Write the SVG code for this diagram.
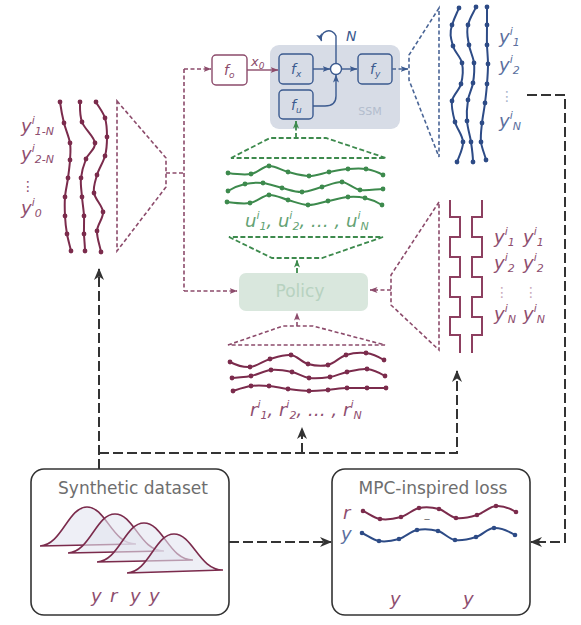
<svg xmlns="http://www.w3.org/2000/svg" width="581" height="625" viewBox="0 0 581 625">
<defs>
<style>
.lab{font-family:"DejaVu Sans",Verdana,sans-serif;font-style:italic;font-size:18px}
.sup,.sub{font-size:11px}
.mt{fill:#8e4e6f}
.bt{fill:#5b6f9e}
.gt{fill:#63a273}
.mc{fill:none;stroke:#7b2b4c;stroke-width:2}
.bc{fill:none;stroke:#2d4b86;stroke-width:2}
.gc{fill:none;stroke:#3d8a4d;stroke-width:2}
.md{fill:#7b2b4c}
.bd{fill:#2d4b86}
.gd{fill:#3d8a4d}
.mdash{fill:none;stroke:#8c4b6b;stroke-width:1.6;stroke-dasharray:4 2.5}
.bdash{fill:none;stroke:#4a6596;stroke-width:1.6;stroke-dasharray:4 2.5}
.gdash{fill:none;stroke:#3d8a4d;stroke-width:1.8;stroke-dasharray:5 2.5}
.kdash{fill:none;stroke:#333;stroke-width:2;stroke-dasharray:10 4}
.box{fill:#fff;stroke:#333;stroke-width:1.6}
.title{font-family:"DejaVu Sans",Verdana,sans-serif;font-size:17px;fill:#6e6e6e;text-anchor:middle}
.fb{fill:none;stroke:#3b5a8f;stroke-width:1.4}
.ft{font-family:"DejaVu Sans",sans-serif;font-style:italic;font-size:14px;fill:#3b5a8f}
.fs{font-size:9px}
.dots{font-family:"DejaVu Sans",sans-serif;font-size:14px}
.gauss{fill:#e2e5f0;fill-opacity:0.6;stroke:#7b2b4c;stroke-width:1.6}
</style>
<marker id="ak" viewBox="0 0 12 10" refX="11" refY="5" markerWidth="12" markerHeight="10" markerUnits="userSpaceOnUse" orient="auto"><path d="M0,0 L12,5 L0,10 L3.5,5 z" fill="#333"/></marker>
<marker id="am" viewBox="0 0 8 6" refX="7.5" refY="3" markerWidth="8" markerHeight="6" markerUnits="userSpaceOnUse" orient="auto"><path d="M0,0 L8,3 L0,6 L2,3 z" fill="#8c4b6b"/></marker>
<marker id="ab" viewBox="0 0 8 6" refX="7.5" refY="3" markerWidth="8" markerHeight="6" markerUnits="userSpaceOnUse" orient="auto"><path d="M0,0 L8,3 L0,6 L2,3 z" fill="#3b5a8f"/></marker>
<marker id="ag" viewBox="0 0 8 6" refX="7.5" refY="3" markerWidth="8" markerHeight="6" markerUnits="userSpaceOnUse" orient="auto"><path d="M0,0 L8,3 L0,6 L2,3 z" fill="#3d8a4d"/></marker>
</defs>
<rect width="581" height="625" fill="#fff"/>

<!-- SSM block -->
<g id="ssm">
<rect x="270" y="45" width="130" height="84" rx="9" fill="#d7dce6"/>
<text x="370" y="115" font-family="DejaVu Sans,sans-serif" font-size="11" fill="#b3bccd" text-anchor="middle">SSM</text>
</g>
<g id="fx"><rect class="fb" x="279" y="54" width="34" height="30" rx="4"/><text class="ft" x="291" y="74">f<tspan class="fs" dy="3">x</tspan></text></g>
<g id="fu"><rect class="fb" x="279" y="90" width="34" height="29" rx="4"/><text class="ft" x="291" y="110">f<tspan class="fs" dy="3">u</tspan></text></g>
<g id="fy"><rect class="fb" x="358" y="54" width="34" height="30" rx="4"/><text class="ft" x="370" y="74">f<tspan class="fs" dy="3">y</tspan></text></g>
<g id="sum"><circle cx="336" cy="69" r="5.5" fill="#fff" stroke="#3b5a8f" stroke-width="1.4"/></g>
<g id="fo"><rect x="212" y="55" width="35" height="30" rx="4" fill="#fff" stroke="#8c4b6b" stroke-width="1.4"/><text class="ft" x="224" y="75" style="fill:#8c4b6b">f<tspan class="fs" dy="3">o</tspan></text></g>
<text class="ft" x="251" y="66" style="fill:#8c4b6b;font-size:13px">x<tspan class="fs" dy="3">0</tspan></text>
<text class="ft" x="346" y="41">N</text>

<!-- Left history trajectories -->
<g id="history">
<path class="mc" d="M60,102 C61,109 62.3,116.2 64,123 S69,136.8 70,143 S70.3,154.2 70,160 S68.8,171.8 68,178 S65.5,190.7 65,197 S64.7,209.8 65,216 S66,228.2 67,234 S70,246 71,251"/>
<path class="mc" d="M80,102 C80,108 79.5,115 82,122 S94.3,136.8 95,143 S88.3,153.2 86,159 S81.7,171.7 81,178 S81.5,190.7 82,197 S83.7,209.8 84,216 S83.8,228.2 84,234 S85,246 85,251"/>
<path class="mc" d="M96,102 C98,106 103.2,112.2 105,118 S107,130.7 107,137 S106.7,149.7 105,156 S98.8,168.8 97,175 S93,186.8 94,193 S102.5,205.7 103,212 S97.3,224.3 97,231 S100,246 101,252"/>
<g class="md">
<circle cx="60" cy="102" r="2.4"/><circle cx="64" cy="123" r="2.4"/><circle cx="70" cy="143" r="2.4"/><circle cx="70" cy="160" r="2.4"/><circle cx="68" cy="178" r="2.4"/><circle cx="65" cy="197" r="2.4"/><circle cx="65" cy="216" r="2.4"/><circle cx="67" cy="234" r="2.4"/><circle cx="71" cy="251" r="2.4"/>
<circle cx="80" cy="102" r="2.4"/><circle cx="82" cy="122" r="2.4"/><circle cx="95" cy="143" r="2.4"/><circle cx="86" cy="159" r="2.4"/><circle cx="81" cy="178" r="2.4"/><circle cx="82" cy="197" r="2.4"/><circle cx="84" cy="216" r="2.4"/><circle cx="84" cy="234" r="2.4"/><circle cx="85" cy="251" r="2.4"/>
<circle cx="96" cy="102" r="2.4"/><circle cx="105" cy="118" r="2.4"/><circle cx="107" cy="137" r="2.4"/><circle cx="105" cy="156" r="2.4"/><circle cx="97" cy="175" r="2.4"/><circle cx="94" cy="193" r="2.4"/><circle cx="103" cy="212" r="2.4"/><circle cx="97" cy="231" r="2.4"/><circle cx="101" cy="252" r="2.4"/>
</g>
<text class="lab mt" x="21" y="132">y<tspan class="sup" dy="-8">i</tspan><tspan class="sub" dy="11">1-N</tspan></text>
<text class="lab mt" x="21" y="160">y<tspan class="sup" dy="-8">i</tspan><tspan class="sub" dy="11">2-N</tspan></text>
<text class="dots mt" x="21" y="191">⋮</text>
<text class="lab mt" x="21" y="214">y<tspan class="sup" dy="-8">i</tspan><tspan class="sub" dy="11">0</tspan></text>
</g>

<!-- Top-right output trajectories -->
<g id="outputs">
<path class="bc" d="M459,8 C457,13 455,16 452,25 S451.3,39.7 453,46 S460.7,56.7 462,63 S462.7,77.7 461,84 S453,94.7 452,101 S453.2,115.2 455,122 S462.7,135.3 463,142 S459,156 457,162"/>
<path class="bc" d="M476,7 C474,12 470,17 468,25 S468,38.7 469,45 S473.3,56.7 474,63 S474,76.8 473,83 S469,93.7 468,100 S466.5,114 467,121 S470,135.2 471,142 S473,156 473,162"/>
<path class="bc" d="M487,7 C487,12 487,18.7 487,25 S486.8,38.5 487,45 S488,57.5 488,64 S487.5,77.5 487,84 S485.8,96.5 485,103 S482.7,116.5 482,123 S480.3,135.8 481,142 S485,155 486,160"/>
<g class="bd">
<circle cx="459" cy="8" r="2.4"/><circle cx="452" cy="25" r="2.4"/><circle cx="453" cy="46" r="2.4"/><circle cx="462" cy="63" r="2.4"/><circle cx="461" cy="84" r="2.4"/><circle cx="452" cy="101" r="2.4"/><circle cx="455" cy="122" r="2.4"/><circle cx="463" cy="142" r="2.4"/><circle cx="457" cy="162" r="2.4"/>
<circle cx="476" cy="7" r="2.4"/><circle cx="468" cy="25" r="2.4"/><circle cx="469" cy="45" r="2.4"/><circle cx="474" cy="63" r="2.4"/><circle cx="473" cy="83" r="2.4"/><circle cx="468" cy="100" r="2.4"/><circle cx="467" cy="121" r="2.4"/><circle cx="471" cy="142" r="2.4"/><circle cx="473" cy="162" r="2.4"/>
<circle cx="487" cy="7" r="2.4"/><circle cx="487" cy="25" r="2.4"/><circle cx="487" cy="45" r="2.4"/><circle cx="488" cy="64" r="2.4"/><circle cx="487" cy="84" r="2.4"/><circle cx="485" cy="103" r="2.4"/><circle cx="482" cy="123" r="2.4"/><circle cx="481" cy="142" r="2.4"/><circle cx="486" cy="160" r="2.4"/>
</g>
<text class="lab bt" x="499" y="43">y<tspan class="sup" dy="-8">i</tspan><tspan class="sub" dy="11">1</tspan></text>
<text class="lab bt" x="499" y="71">y<tspan class="sup" dy="-8">i</tspan><tspan class="sub" dy="11">2</tspan></text>
<text class="dots" x="500" y="101" fill="#a9b4cb">⋮</text>
<text class="lab bt" x="499" y="127">y<tspan class="sup" dy="-8">i</tspan><tspan class="sub" dy="11">N</tspan></text>
</g>

<!-- control inputs u -->
<g id="inputs">
<path class="gc" d="M228,173 C235,174 244.2,175.2 251,174 S262.8,166.3 269,166 S281.3,170.3 288,172 S302.2,176 309,176 S322.5,173.2 329,172 S341.8,169.5 348,169 S360.2,168 366,169 S378,172 383,175"/>
<path class="gc" d="M228,191 C233,188 239.2,185.3 245,184 S256.8,182.3 263,183 S275.5,186.5 282,188 S295.3,192.2 302,192 S315.3,188.7 322,187 S335.7,181.5 342,182 S353.2,188.8 360,190 S377,189 383,189"/>
<path class="gc" d="M227,202 C235,203 243,204.2 250,203 S262.7,195.5 269,195 S281.5,198.3 288,200 S301.3,204.8 308,205 S321.3,202.3 328,201 S341.8,197.5 348,197 S359.3,196.7 365,198 S377,202 382,205"/>
<g class="gd">
<circle cx="228" cy="173" r="2.4"/><circle cx="251" cy="174" r="2.4"/><circle cx="269" cy="166" r="2.4"/><circle cx="288" cy="172" r="2.4"/><circle cx="309" cy="176" r="2.4"/><circle cx="329" cy="172" r="2.4"/><circle cx="348" cy="169" r="2.4"/><circle cx="366" cy="169" r="2.4"/><circle cx="383" cy="175" r="2.4"/>
<circle cx="228" cy="191" r="2.4"/><circle cx="245" cy="184" r="2.4"/><circle cx="263" cy="183" r="2.4"/><circle cx="282" cy="188" r="2.4"/><circle cx="302" cy="192" r="2.4"/><circle cx="322" cy="187" r="2.4"/><circle cx="342" cy="182" r="2.4"/><circle cx="360" cy="190" r="2.4"/><circle cx="383" cy="189" r="2.4"/>
<circle cx="227" cy="202" r="2.4"/><circle cx="250" cy="203" r="2.4"/><circle cx="269" cy="195" r="2.4"/><circle cx="288" cy="200" r="2.4"/><circle cx="308" cy="205" r="2.4"/><circle cx="328" cy="201" r="2.4"/><circle cx="348" cy="197" r="2.4"/><circle cx="365" cy="198" r="2.4"/><circle cx="382" cy="205" r="2.4"/>
</g>
<text class="lab gt" x="245" y="227">u<tspan class="sup" dy="-8">i</tspan><tspan class="sub" dy="11">1</tspan><tspan dy="-3">, u</tspan><tspan class="sup" dy="-8">i</tspan><tspan class="sub" dy="11">2</tspan><tspan dy="-3">, … , u</tspan><tspan class="sup" dy="-8">i</tspan><tspan class="sub" dy="11">N</tspan></text>
</g>

<!-- Policy -->
<g id="policy">
<rect x="239" y="273" width="129" height="38" rx="7" fill="#d9e7dd"/>
<text x="300" y="297" font-family="DejaVu Sans,sans-serif" font-size="17" fill="#b7d2c0" text-anchor="middle">Policy</text>
</g>

<!-- references r -->
<g id="references">
<path class="mc" d="M230,362 C236,365 243.3,367.5 250,367 S263.2,361 270,359 S284.7,354.2 291,355 S301.8,362.3 308,364 S321.7,366.5 328,365 S339.7,357 346,355 S359.7,352.2 366,353 S379,357 384,360"/>
<path class="mc" d="M232,378 C238,377 244.5,377.3 251,376 S264.2,370.7 271,370 S285.7,370.7 292,372 S302.7,377.2 309,378 S323.7,378 330,377 S340.8,373.3 347,372 S360.7,368.3 367,369 S380,373 385,376"/>
<path class="mc" d="M233,391 C239,389 245,386.8 251,386 S262.8,385.5 269,386 S281.3,388.2 288,389 S302.3,390.8 309,391 S321.7,390.5 328,390 S340.5,388 347,388 S360.5,388 367,388 S380,388 386,388"/>
<g class="md">
<circle cx="230" cy="362" r="2.4"/><circle cx="250" cy="367" r="2.4"/><circle cx="270" cy="359" r="2.4"/><circle cx="291" cy="355" r="2.4"/><circle cx="308" cy="364" r="2.4"/><circle cx="328" cy="365" r="2.4"/><circle cx="346" cy="355" r="2.4"/><circle cx="366" cy="353" r="2.4"/><circle cx="384" cy="360" r="2.4"/>
<circle cx="232" cy="378" r="2.4"/><circle cx="251" cy="376" r="2.4"/><circle cx="271" cy="370" r="2.4"/><circle cx="292" cy="372" r="2.4"/><circle cx="309" cy="378" r="2.4"/><circle cx="330" cy="377" r="2.4"/><circle cx="347" cy="372" r="2.4"/><circle cx="367" cy="369" r="2.4"/><circle cx="385" cy="376" r="2.4"/>
<circle cx="233" cy="391" r="2.4"/><circle cx="251" cy="386" r="2.4"/><circle cx="269" cy="386" r="2.4"/><circle cx="288" cy="389" r="2.4"/><circle cx="309" cy="391" r="2.4"/><circle cx="328" cy="390" r="2.4"/><circle cx="347" cy="388" r="2.4"/><circle cx="367" cy="388" r="2.4"/><circle cx="386" cy="388" r="2.4"/>
</g>
<text class="lab mt" x="250" y="416">r<tspan class="sup" dy="-8">i</tspan><tspan class="sub" dy="11">1</tspan><tspan dy="-3">, r</tspan><tspan class="sup" dy="-8">i</tspan><tspan class="sub" dy="11">2</tspan><tspan dy="-3">, … , r</tspan><tspan class="sup" dy="-8">i</tspan><tspan class="sub" dy="11">N</tspan></text>
</g>

<!-- constraints -->
<g id="constraints">
<path fill="none" stroke="#8d3f60" stroke-width="2" d="M450,200 V217 H460 V237 H450 V257 H460 V277 H450 V297 H460 V317 H450 V335 H460 V353"/>
<path fill="none" stroke="#8d3f60" stroke-width="2" d="M482,200 V217 H472 V237 H482 V257 H472 V277 H482 V297 H472 V317 H482 V335 H472 V353"/>
<text class="lab mt" x="494" y="243">y<tspan class="sup" dy="-8">i</tspan><tspan class="sub" dy="11">1</tspan></text>
<text class="lab mt" x="523" y="243">y<tspan class="sup" dy="-8">i</tspan><tspan class="sub" dy="11">1</tspan></text>
<text class="lab mt" x="494" y="269">y<tspan class="sup" dy="-8">i</tspan><tspan class="sub" dy="11">2</tspan></text>
<text class="lab mt" x="523" y="269">y<tspan class="sup" dy="-8">i</tspan><tspan class="sub" dy="11">2</tspan></text>
<text class="dots" x="495" y="297" fill="#c9a9b9">⋮</text>
<text class="dots" x="524" y="297" fill="#c9a9b9">⋮</text>
<text class="lab mt" x="494" y="320">y<tspan class="sup" dy="-8">i</tspan><tspan class="sub" dy="11">N</tspan></text>
<text class="lab mt" x="523" y="320">y<tspan class="sup" dy="-8">i</tspan><tspan class="sub" dy="11">N</tspan></text>
</g>

<!-- Synthetic dataset -->
<g id="synthetic-dataset">
<rect class="box" x="31" y="469" width="198" height="146" rx="13"/>
<text class="title" x="133" y="494">Synthetic dataset</text>
<path class="gauss" d="M40,546 C62,545 68,507 87,507 C106,507 112,544 136,544 Z"/>
<path class="gauss" d="M68,553 C90,552 96,514 115,514 C134,514 140,551 164,551 Z"/>
<path class="gauss" d="M97,562 C119,561 125,523 144,523 C163,523 169,560 193,560 Z"/>
<path class="gauss" d="M127,573 C149,572 155,534 174,534 C193,534 199,570 223,570 Z"/>
<text class="lab mt" x="91" y="602" font-size="16">y</text>
<text class="lab mt" x="110" y="602" font-size="16">r</text>
<text class="lab mt" x="130" y="602" font-size="16">y</text>
<text class="lab mt" x="149" y="602" font-size="16">y</text>
</g>

<!-- MPC-inspired loss -->
<g id="mpc-loss">
<rect class="box" x="332" y="469" width="198" height="146" rx="13"/>
<text class="title" x="433" y="494">MPC-inspired loss</text>
<text class="lab mt" x="343" y="519">r</text>
<text class="lab bt" x="341" y="540">y</text>
<path class="mc" stroke-width="1.8" d="M363,511 C368,513 373.7,518 380,519 S394.5,518.8 401,517 S412.7,509.3 419,508 S432.8,507.3 439,509 S449.7,517 456,518 S470.3,517 477,515 S489.5,506.5 496,506 S511,509 516,512"/>
<path class="bc" stroke-width="1.8" d="M362,533 C367,535 372.8,540 379,541 S392.7,540.8 399,539 S410.5,531.3 417,530 S431.7,529.3 438,531 S448.7,539 455,540 S469.5,539 476,537 S487.5,528.3 494,528 S510,532 515,535"/>
<g class="md"><circle cx="363" cy="511" r="2.3"/><circle cx="380" cy="519" r="2.3"/><circle cx="401" cy="517" r="2.3"/><circle cx="419" cy="508" r="2.3"/><circle cx="439" cy="509" r="2.3"/><circle cx="456" cy="518" r="2.3"/><circle cx="477" cy="515" r="2.3"/><circle cx="496" cy="506" r="2.3"/><circle cx="516" cy="512" r="2.3"/></g>
<g class="bd"><circle cx="362" cy="533" r="2.3"/><circle cx="379" cy="541" r="2.3"/><circle cx="399" cy="539" r="2.3"/><circle cx="417" cy="530" r="2.3"/><circle cx="438" cy="531" r="2.3"/><circle cx="455" cy="540" r="2.3"/><circle cx="476" cy="537" r="2.3"/><circle cx="494" cy="528" r="2.3"/><circle cx="515" cy="535" r="2.3"/></g>
<text x="427" y="523" font-family="DejaVu Sans,sans-serif" font-size="13" fill="#777" text-anchor="middle">–</text>
<text class="lab mt" x="390" y="605">y</text>
<text class="lab mt" x="463" y="605">y</text>
</g>

<!-- connectors -->
<g id="connectors">
<line x1="247" y1="70" x2="278" y2="70" stroke="#8c4b6b" stroke-width="1.4" marker-end="url(#am)"/>
<line x1="313" y1="69" x2="330" y2="69" stroke="#3b5a8f" stroke-width="1.4" marker-end="url(#ab)"/>
<path d="M313,106 H325 Q336,106 336,96 V75" fill="none" stroke="#3b5a8f" stroke-width="1.4" marker-end="url(#ab)"/>
<line x1="341.5" y1="69" x2="357" y2="69" stroke="#3b5a8f" stroke-width="1.4" marker-end="url(#ab)"/>
<path d="M336,63.5 V36 A7.5,7.5 0 1 0 321.5,41" fill="none" stroke="#3b5a8f" stroke-width="1.4" marker-end="url(#ab)"/>
<line class="bdash" x1="392" y1="69" x2="408" y2="69" marker-end="url(#ab)"/>
<path class="bdash" d="M439,8 L409,55 L409,80 L439,157 Z"/>
<path class="mdash" d="M117,101 L166,158 L166,187 L117,251 Z"/>
<path class="mdash" d="M166,173 H184"/>
<path class="mdash" d="M184,69 V291"/>
<path class="mdash" d="M184,69 H211" marker-end="url(#am)"/>
<path class="mdash" d="M184,291 H237" marker-end="url(#am)"/>
<path class="mdash" d="M439,202 L391,275 L391,305 L439,350 Z"/>
<path class="mdash" d="M391,290 H370" marker-end="url(#am)"/>
<path class="mdash" d="M228,345 L283,326 L313,326 L385,345 Z"/>
<path class="mdash" d="M297,326 V313" marker-end="url(#am)"/>
<path class="gdash" d="M231,158 L270,138 L326,138 L386,158 Z"/>
<path class="gdash" d="M296,138 V121" marker-end="url(#ag)"/>
<path class="gdash" d="M229,237 L272,258 L322,258 L383,237 Z"/>
<path class="gdash" d="M297,273 V260" marker-end="url(#ag)"/>
<path class="kdash" d="M99,469 V269" marker-end="url(#ak)"/>
<path class="kdash" d="M99,453 H457 V371" marker-end="url(#ak)"/>
<path class="kdash" d="M302,453 V428" marker-end="url(#ak)"/>
<path class="kdash" d="M229,542 H331" marker-end="url(#ak)"/>
<path class="kdash" d="M527,95 H565 V542 H531" marker-end="url(#ak)"/>
</g>
</svg>
